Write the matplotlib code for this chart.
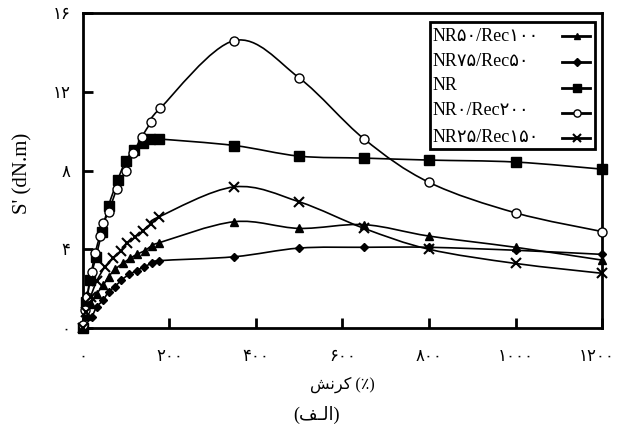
import numpy as np
import matplotlib
matplotlib.use("Agg")
import matplotlib.pyplot as plt
import matplotlib.transforms as mtransforms
from matplotlib.path import Path
from matplotlib.patches import PathPatch, Rectangle

plt.rcParams['font.family'] = ['Liberation Serif', 'DejaVu Sans']

# values, strain (%) vs S' (dN.m)
x_far = [350, 500, 650, 800, 1000, 1200]

x_tri = [0, 8, 18, 32, 47, 59, 74, 92, 109, 126, 143, 159, 176] + x_far
y_tri = [0, 0.6, 1.2, 1.75, 2.18, 2.6, 2.98, 3.28, 3.54, 3.76, 3.93, 4.18, 4.33,
         5.4, 5.06, 5.25, 4.67, 4.1, 3.45]

x_dia = [0, 20, 32, 47, 59, 74, 89, 107, 124, 141, 159, 176] + x_far
y_dia = [0, 0.57, 1.08, 1.42, 1.84, 2.1, 2.44, 2.72, 2.91, 3.11, 3.28, 3.42,
         3.62, 4.06, 4.1, 4.1, 3.95, 3.74]

x_sq = [0, 8, 16, 30, 44, 59, 80, 99, 119, 139, 156, 176] + x_far
y_sq = [0, 1.3, 2.45, 3.6, 4.9, 6.2, 7.5, 8.5, 9.04, 9.4, 9.6, 9.6,
        9.27, 8.73, 8.63, 8.53, 8.43, 8.07]

x_circ = [0, 5, 10, 20, 28, 39, 47, 59, 78, 99, 116, 136, 157, 178] + x_far
y_circ = [0.15, 0.9, 1.6, 2.86, 3.8, 4.67, 5.31, 5.9, 7.04, 7.97, 8.87, 9.71, 10.44, 11.15,
          14.6, 12.7, 9.6, 7.4, 5.85, 4.9]

x_cross = [0, 8, 18, 32, 51, 70, 87, 102, 120, 139, 157, 176] + x_far
y_cross = [0, 0.8, 1.6, 2.4, 3.11, 3.54, 3.92, 4.3, 4.6, 4.95, 5.3, 5.65,
           7.17, 6.41, 5.06, 4.0, 3.28, 2.78]

labels = ["NR50/Rec100", "NR75/Rec50", "NR", "NR0/Rec200", "NR25/Rec150"]
x_ticks = [0, 200, 400, 600, 800, 1000, 1200]
y_ticks = [0, 4, 8, 12, 16]

FA = str.maketrans("0123456789", "۰۱۲۳۴۵۶۷۸۹")


def fa(s):
    return str(s).translate(FA)


def smooth_path(xs, ys):
    # excel-like smoothed line: cubic bezier through every point
    p = np.column_stack([xs, ys]).astype(float)
    n = len(p)
    verts = [p[0]]
    codes = [Path.MOVETO]
    for i in range(n - 1):
        prev = p[max(i - 1, 0)]
        nxt = p[min(i + 2, n - 1)]
        c1 = p[i] + (p[i + 1] - prev) / 6
        c2 = p[i + 1] - (nxt - p[i]) / 6
        verts += [c1, c2, p[i + 1]]
        codes += [Path.CURVE4] * 3
    return Path(verts, codes)


fig = plt.figure(figsize=(6.17, 4.41), dpi=100)
ax = fig.add_axes([0.1345, 0.2562, 0.8412, 0.7143])

series = [
    (x_tri, y_tri, dict(marker='^', ms=6, mfc='black')),
    (x_dia, y_dia, dict(marker='D', ms=4.5, mfc='black')),
    (x_sq, y_sq, dict(marker='s', ms=6.5, mfc='black')),
    (x_circ, y_circ, dict(marker='o', ms=6.5, mfc='white', mew=1.0)),
    (x_cross, y_cross, dict(marker='x', ms=7, mew=1.5)),
]

for xs, ys, mk in series:
    ax.add_patch(PathPatch(smooth_path(xs, ys), fc='none', ec='black', lw=1.2,
                           clip_on=False, zorder=2))
    ax.plot(xs, ys, ls='none', color='black', mec='black', clip_on=False, zorder=3, **mk)

ax.set_xlim(0, 1200)
ax.set_ylim(0, 16)
ax.set_xticks(x_ticks)
ax.set_xticklabels([fa(v) for v in x_ticks])
ax.set_yticks(y_ticks)
ax.set_yticklabels([fa(v) for v in y_ticks])
ax.tick_params(direction='in', length=7, width=2, labelsize=12)
ax.tick_params(axis='x', pad=15)
ax.tick_params(axis='y', pad=9)
for sp in ax.spines.values():
    sp.set_linewidth(2)

# the last x label sits a little left so it stays inside the figure
last = ax.get_xticklabels()[-1]
last.set_transform(last.get_transform() +
                   mtransforms.ScaledTranslation(-4 / 72, 0, fig.dpi_scale_trans))

ax.set_ylabel("S' (dN.m)", fontsize=15, va='center')
ax.yaxis.set_label_coords(-0.116, 0.49)

# persian labels written in visual order with presentation forms
ax.set_xlabel("\uFEB6\uFEE7\uFEAE\uFB90 (٪)", fontsize=11.5, va='center')
ax.xaxis.set_label_coords(0.5, -0.181)
fig.text(316 / 617, 1 - 415 / 441, "(\uFED2\u0640\uFEDF\uFE8D)", fontsize=13,
         ha='center', va='center')

# legend: labels on the left, line samples on the right
tr = ax.transAxes
box = Rectangle((0.668, 0.567), 0.318, 0.406, transform=tr, fc='white', ec='black',
                lw=2, clip_on=False, zorder=5)
ax.add_patch(box)
text_y = [0.927, 0.845, 0.771, 0.69, 0.606]
line_y = [0.927, 0.845, 0.762, 0.682, 0.603]
for (xs, ys, mk), lab, ty, ly in zip(series, labels, text_y, line_y):
    ax.text(0.673, ty, fa(lab), transform=tr, fontsize=13, va='center', ha='left',
            zorder=6)
    mk_small = dict(mk)
    mk_small['ms'] = mk['ms'] * 0.8
    ax.plot([0.922, 0.977], [ly, ly], transform=tr, color='black', lw=2,
            clip_on=False, zorder=6)
    ax.plot([0.951], [ly], transform=tr, ls='none', color='black', mec='black',
            clip_on=False, zorder=7, **mk_small)

fig.savefig("out.png", dpi=100)
